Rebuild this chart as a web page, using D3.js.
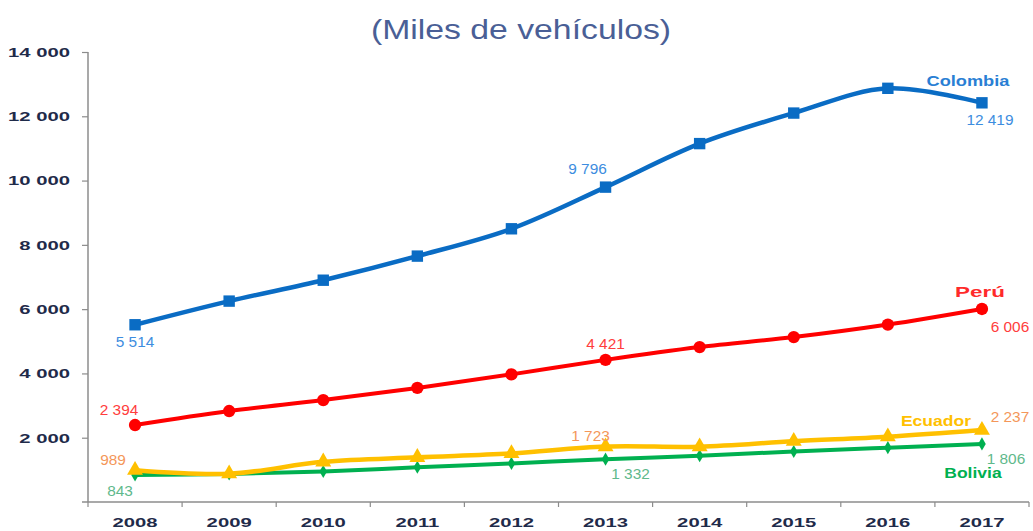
<!DOCTYPE html>
<html>
<head>
<meta charset="utf-8">
<script src="https://cdn.jsdelivr.net/npm/d3@7"></script>
<style>
  body { margin: 0; background: #fff; }
  svg text { font-family: "Liberation Sans", Arial, sans-serif; }
</style>
</head>
<body>
<div id="chart"></div>
<script>
// data (thousands of vehicles)
var years = ["2008","2009","2010","2011","2012","2013","2014","2015","2016","2017"];
var colombia = [5514, 6250, 6900, 7650, 8500, 9796, 11150, 12100, 12870, 12419];
var peru     = [2394, 2830, 3170, 3550, 3970, 4421, 4820, 5130, 5520, 6006];
var ecuador  = [989, 880, 1250, 1390, 1510, 1723, 1720, 1890, 2030, 2237];
var bolivia  = [843, 870, 950, 1080, 1200, 1332, 1440, 1570, 1690, 1806];
var yTicks = [2000, 4000, 6000, 8000, 10000, 12000, 14000];

var w = 1033, h = 531;
var margin = {top: 52, right: 4, bottom: 29, left: 88};
var width = w - margin.left - margin.right,
    height = h - margin.top - margin.bottom;

var fmt = d3.formatLocale({decimal: ",", thousands: " ", grouping: [3], currency: ["", ""]}).format(",d");

// the original picture is stretched sideways, so widen the text the same way
function stretch(sel, k) {
  sel.each(function() {
    var len = this.getComputedTextLength();
    d3.select(this)
      .attr("textLength", len * k)
      .attr("lengthAdjust", "spacingAndGlyphs");
  });
}

var svg = d3.select("#chart").append("svg")
    .attr("width", w)
    .attr("height", h);

svg.append("text")
    .attr("x", 521).attr("y", 39)
    .attr("text-anchor", "middle")
    .attr("font-size", 27)
    .attr("fill", "#4a5f96")
    .text("(Miles de vehículos)")
    .call(stretch, 1.25);

var g = svg.append("g")
    .attr("transform", "translate(" + margin.left + "," + margin.top + ")");

var x = d3.scaleBand().domain(years).range([0, width]);
var y = d3.scaleLinear().domain([0, 14000]).range([height, 0]);

// y axis
var yAxis = g.append("g")
    .call(d3.axisLeft(y).tickValues(yTicks).tickSize(6).tickPadding(12).tickFormat(fmt));
yAxis.select(".domain").attr("stroke", "#8c8c8c").attr("stroke-width", 1.5).attr("d", "M0,0V" + height);
yAxis.selectAll(".tick line").attr("stroke", "#8c8c8c").attr("stroke-width", 1.2);
yAxis.selectAll("text")
    .attr("font-size", 13.5).attr("font-weight", "bold").attr("fill", "#1f2b4a")
    .style("font-family", "Liberation Sans, Arial, sans-serif")
    .call(stretch, 1.5);

// x axis
var xAxis = g.append("g")
    .attr("transform", "translate(0," + height + ")")
    .call(d3.axisBottom(x).tickSize(0).tickPadding(15));
xAxis.select(".domain").attr("stroke", "#8c8c8c").attr("stroke-width", 1.5).attr("d", "M-6,0H" + width);
xAxis.selectAll("text")
    .attr("font-size", 13.5).attr("font-weight", "bold").attr("fill", "#1f2b4a")
    .style("font-family", "Liberation Sans, Arial, sans-serif")
    .call(stretch, 1.5);
// boundary ticks between categories
g.append("g").selectAll("line")
    .data(years.concat(["end"]))
  .enter().append("line")
    .attr("x1", function(d, i) { return i * x.bandwidth(); })
    .attr("x2", function(d, i) { return i * x.bandwidth(); })
    .attr("y1", height).attr("y2", height + 5)
    .attr("stroke", "#8c8c8c").attr("stroke-width", 1.2);

var cx = function(d, i) { return x(years[i]) + x.bandwidth() / 2; };

var series = [
  {name: "Bolivia",  values: bolivia,  color: "#00b050", width: 4, symbol: d3.symbolDiamond, size: 50},
  {name: "Ecuador",  values: ecuador,  color: "#ffc000", width: 4.5, symbol: d3.symbolTriangle, size: 110},
  {name: "Perú",     values: peru,     color: "#ff0000", width: 4, symbol: d3.symbolCircle, size: 120},
  {name: "Colombia", values: colombia, color: "#0a6cc4", width: 4.5, symbol: d3.symbolSquare, size: 130}
];

var line = d3.line()
    .x(cx)
    .y(function(d) { return y(d); })
    .curve(d3.curveCatmullRom);

series.forEach(function(s) {
  g.append("path")
      .datum(s.values)
      .attr("fill", "none")
      .attr("stroke", s.color)
      .attr("stroke-width", s.width)
      .attr("stroke-linejoin", "round")
      .attr("d", line);

  g.selectAll(".pt-" + s.name)
      .data(s.values)
    .enter().append("path")
      .attr("transform", function(d, i) { return "translate(" + cx(d, i) + "," + y(d) + ")"; })
      .attr("d", d3.symbol().type(s.symbol).size(s.size))
      .attr("fill", s.color);
});

// value labels: [series values, index, dx, dy, color]
var valueLabels = [
  [colombia, 0, 0, 22, "#3d8de0"],
  [colombia, 5, -18, -13, "#3d8de0"],
  [colombia, 9, 8, 22, "#3d8de0"],
  [peru, 0, -16, -10, "#ff3d3d"],
  [peru, 5, 0, -11, "#ff3d3d"],
  [peru, 9, 28, 23, "#ff3d3d"],
  [ecuador, 0, -22, -5, "#f4975a"],
  [ecuador, 5, -15, -6, "#f4975a"],
  [ecuador, 9, 28, -8, "#f4975a"],
  [bolivia, 0, -15, 21, "#5fb98c"],
  [bolivia, 5, 25, 20, "#5fb98c"],
  [bolivia, 9, 24, 20, "#5fb98c"]
];

g.selectAll(".vlabel")
    .data(valueLabels)
  .enter().append("text")
    .attr("class", "vlabel")
    .attr("x", function(d) { return x(years[d[1]]) + x.bandwidth() / 2 + d[2]; })
    .attr("y", function(d) { return y(d[0][d[1]]) + d[3]; })
    .attr("text-anchor", "middle")
    .attr("font-size", 14)
    .attr("fill", function(d) { return d[4]; })
    .text(function(d) { return fmt(d[0][d[1]]); })
    .call(stretch, 1.1);

// series names near the end: [name, values, dx, dy, color, stretch]
var nameLabels = [
  ["Colombia", colombia, -14, -17, "#2a7fd4", 1.3],
  ["Perú", peru, -2, -12, "#ff2a2a", 1.6],
  ["Ecuador", ecuador, -46, -4, "#ffc000", 1.25],
  ["Bolivia", bolivia, -9, 34, "#00b050", 1.25]
];

g.selectAll(".nlabel")
    .data(nameLabels)
  .enter().append("text")
    .attr("class", "nlabel")
    .attr("x", function(d) { return x(years[9]) + x.bandwidth() / 2 + d[2]; })
    .attr("y", function(d) { return y(d[1][9]) + d[3]; })
    .attr("text-anchor", "middle")
    .attr("font-size", 14)
    .attr("font-weight", "bold")
    .attr("fill", function(d) { return d[4]; })
    .text(function(d) { return d[0]; })
    .each(function(d) { d3.select(this).call(stretch, d[5]); });
</script>
</body>
</html>
